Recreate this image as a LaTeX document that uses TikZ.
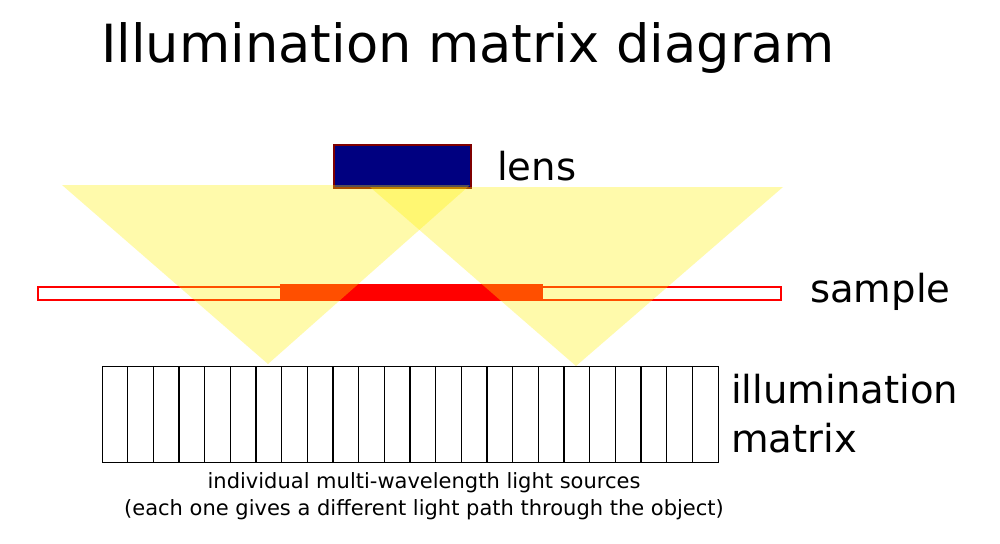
\documentclass[tikz,border=0pt]{standalone}
\usepackage{fontspec}
\setmainfont{DejaVu Sans}
\usetikzlibrary{calc}
\begin{document}
\begin{tikzpicture}[x=1pt,y=-1pt,
  lbl/.style={inner sep=0pt,anchor=base west,font=\fontsize{38.6}{40}\selectfont},
  beam/.style={fill=yellow,fill opacity=0.33,draw=none},
  cellline/.style={draw=black,line width=1.2pt},
  caption/.style={inner sep=0pt,anchor=base,font=\fontsize{21}{23}\selectfont}]
\fill[white] (0,0) rectangle (1000,543);
\useasboundingbox (0,0) rectangle (1000,543);
% title
\node[inner sep=0pt,anchor=base west,font=\fontsize{52.6}{54}\selectfont] (title) at (101,63) {Illumination matrix diagram};
% lens
\node[draw={rgb,255:red,128;green,0;blue,0},line width=2pt,fill={rgb,255:red,0;green,0;blue,128},
  minimum width=137pt,minimum height=43pt,inner sep=0pt,anchor=north west] (lens) at (332.5,143.5) {};
\node[lbl] (lenslbl) at (497,180) {lens};
% sample
\node[draw=red,line width=2.5pt,fill=white,minimum width=743pt,minimum height=13pt,inner sep=0pt,anchor=north west] (sample) at (36.5,285.5) {};
\node[fill=red,minimum width=263pt,minimum height=16pt,inner sep=0pt,anchor=north west] (obj) at (280,284) {};
\node[lbl] (samplelbl) at (810,302) {sample};
% beams
\path[beam] (62,185) -- (470,185) -- (268,364) -- cycle;
\path[beam] (370,187) -- (783,187) -- (576,366) -- cycle;
% matrix
\node[cellline,minimum width=616pt,minimum height=96pt,inner sep=0pt,anchor=north west] (matrix) at (102,366) {};
\foreach \i in {1,...,23}{
  \draw[cellline] ($(matrix.north west)+(\i*616/24,0)$) -- ($(matrix.south west)+(\i*616/24,0)$);
}
\node[lbl] (matlbl1) at (731,403) {illumination};
\node[lbl] (matlbl2) at (731,452) {matrix};
\node[caption] (cap1) at (424,488) {individual multi-wavelength light sources};
\node[caption] (cap2) at (424,515) {(each one gives a different light path through the object)};
\end{tikzpicture}
\end{document}
